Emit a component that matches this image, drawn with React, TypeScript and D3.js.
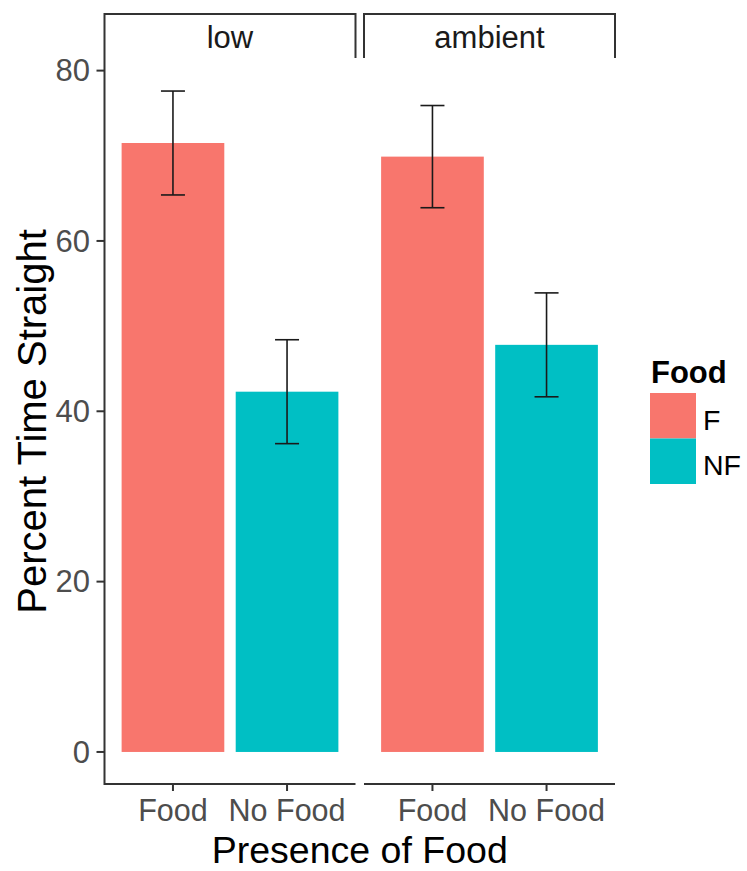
import React from "react";
import * as d3 from "d3";

// Facets, x categories and fill groups
const facets = ["low", "ambient"];
const categories = ["Food", "No Food"];
const fillGroups = ["F", "NF"];
const fillColors = ["#F8766D", "#00BFC4"];

// Mean percent time straight per facet (Food, No Food)
const lowMeans = [71.5, 42.3];
const ambientMeans = [69.9, 47.8];
// Standard errors per facet (Food, No Food)
const lowErrors = [6.1, 6.1];
const ambientErrors = [6.0, 6.1];

const yTicks = [0, 20, 40, 60, 80];

const FONT = "'Liberation Sans', Arial, Helvetica, sans-serif";

const W = 747;
const H = 871;
const panelTop = 58;
const panelBottom = 785;
const stripTop = 14;
const panels = [
  { left: 104.5, right: 355.5 },
  { left: 364, right: 615 },
];

export default function App() {
  const means = [lowMeans, ambientMeans];
  const errors = [lowErrors, ambientErrors];

  const allTops = means.flatMap((m, i) => m.map((v, j) => v + errors[i][j]));
  const yMax = d3.max(allTops) as number;
  const pad = (yMax - 0) * 0.05;
  const y = d3
    .scaleLinear()
    .domain([0 - pad, yMax + pad])
    .range([panelBottom, panelTop]);

  const axisColor = "#333333";

  return (
    <svg
      width={W}
      height={H}
      style={{ position: "absolute", left: 0, top: 0, background: "#fff" }}
      fontFamily={FONT}
    >
      <rect x={0} y={0} width={W} height={H} fill="#fff" />
      {facets.map((facet, fi) => {
        const p = panels[fi];
        const x = d3
          .scaleBand<string>()
          .domain(categories)
          .range([p.left, p.right])
          .paddingInner(0.1)
          .paddingOuter(0.15);
        const cx = (c: string) => (x(c) as number) + x.bandwidth() / 2;
        const capHalf = 12;
        return (
          <g key={facet}>
            {/* strip */}
            <path
              d={`M${p.left},${panelTop} V${stripTop} H${p.right} V${panelTop}`}
              fill="none"
              stroke={axisColor}
              strokeWidth={2}
            />
            <text
              x={(p.left + p.right) / 2}
              y={48}
              textAnchor="middle"
              fontSize={31}
              fill="#1A1A1A"
            >
              {facet}
            </text>
            {/* bars */}
            {categories.map((c, ci) => (
              <rect
                key={c}
                x={x(c)}
                y={y(means[fi][ci])}
                width={x.bandwidth()}
                height={y(0) - y(means[fi][ci])}
                fill={fillColors[ci]}
              />
            ))}
            {/* error bars */}
            {categories.map((c, ci) => {
              const m = means[fi][ci];
              const e = errors[fi][ci];
              const xc = cx(c);
              return (
                <g key={c} stroke="#1A1A1A" strokeWidth={1.6} fill="none">
                  <line x1={xc} x2={xc} y1={y(m + e)} y2={y(m - e)} />
                  <line x1={xc - capHalf} x2={xc + capHalf} y1={y(m + e)} y2={y(m + e)} />
                  <line x1={xc - capHalf} x2={xc + capHalf} y1={y(m - e)} y2={y(m - e)} />
                </g>
              );
            })}
            {/* x axis */}
            <line
              x1={p.left}
              x2={p.right}
              y1={panelBottom - 1}
              y2={panelBottom - 1}
              stroke={axisColor}
              strokeWidth={2}
            />
            {categories.map((c) => (
              <g key={c}>
                <line
                  x1={cx(c)}
                  x2={cx(c)}
                  y1={panelBottom - 1}
                  y2={panelBottom + 6}
                  stroke={axisColor}
                  strokeWidth={2}
                />
                <text
                  x={cx(c)}
                  y={821}
                  textAnchor="middle"
                  fontSize={30.5}
                  fill="#4D4D4D"
                >
                  {c}
                </text>
              </g>
            ))}
          </g>
        );
      })}

      {/* y axis */}
      <line
        x1={panels[0].left}
        x2={panels[0].left}
        y1={panelTop}
        y2={panelBottom}
        stroke={axisColor}
        strokeWidth={2}
      />
      {yTicks.map((t) => (
        <g key={t}>
          <line
            x1={panels[0].left - 8}
            x2={panels[0].left}
            y1={y(t)}
            y2={y(t)}
            stroke={axisColor}
            strokeWidth={2}
          />
          <text
            x={90}
            y={y(t)}
            dy="0.35em"
            textAnchor="end"
            fontSize={31}
            fill="#4D4D4D"
          >
            {t}
          </text>
        </g>
      ))}

      {/* axis titles */}
      <text
        x={(panels[0].left + panels[1].right) / 2}
        y={863}
        textAnchor="middle"
        fontSize={37.5}
        fill="#000"
      >
        Presence of Food
      </text>
      <text
        transform={`translate(46,${(panelTop + panelBottom) / 2}) rotate(-90)`}
        textAnchor="middle"
        fontSize={40}
        fill="#000"
      >
        Percent Time Straight
      </text>

      {/* legend */}
      <text x={651} y={383} fontSize={31} fontWeight="bold" fill="#000">
        Food
      </text>
      {fillGroups.map((g, i) => (
        <g key={g}>
          <rect x={650} y={393 + i * 45.5} width={46} height={45.5} fill={fillColors[i]} />
          <text x={703} y={430 + i * 45} fontSize={28.5} fill="#000">
            {g}
          </text>
        </g>
      ))}
    </svg>
  );
}
